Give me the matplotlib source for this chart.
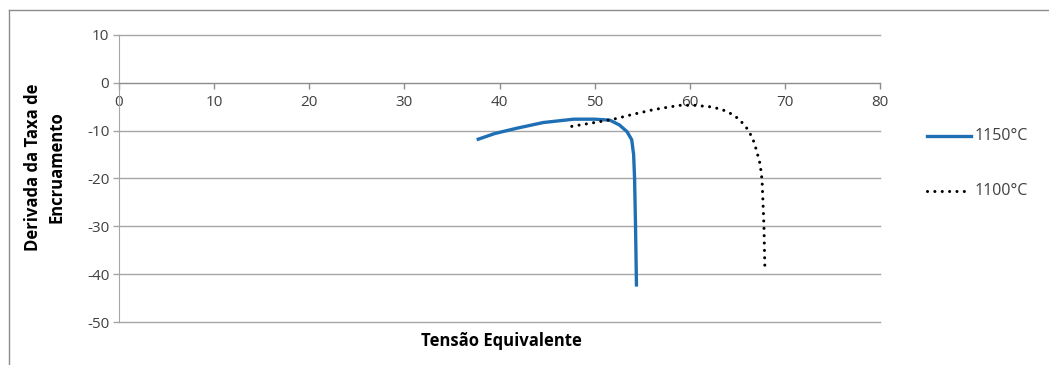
import matplotlib
matplotlib.use("Agg")
import matplotlib.pyplot as plt
from matplotlib.lines import Line2D

plt.rcParams['font.family'] = ['Open Sans', 'DejaVu Sans']
plt.rcParams['axes.unicode_minus'] = False

# Strain-hardening rate derivative vs equivalent stress
stress_1150 = [37.6, 39.5, 41.8, 44.6, 47.8, 50.0, 51.6, 52.6, 53.4, 53.9, 54.1, 54.2, 54.3, 54.4]
deriv_1150 = [-11.9, -10.6, -9.5, -8.3, -7.6, -7.6, -7.8, -8.8, -10.2, -11.9, -15.0, -20.0, -30.0, -42.6]

stress_1100 = [47.6, 50.0, 52.0, 54.0, 56.2, 58.0, 59.0, 60.5, 62.1, 63.3, 64.2, 65.2, 66.0, 66.6,
               67.0, 67.4, 67.6, 67.7, 67.8, 67.9]
deriv_1100 = [-9.1, -8.3, -7.6, -6.6, -5.6, -5.0, -4.7, -4.7, -5.0, -5.5, -6.3, -7.6, -9.5, -11.5,
              -14.0, -17.0, -20.3, -25.0, -30.0, -39.1]

labels = ['1150°C', '1100°C']
x_ticks = list(range(0, 81, 10))
y_ticks = list(range(-50, 11, 10))

W, H = 1049, 365
fig = plt.figure(figsize=(W / 100, H / 100), dpi=100)
ax = fig.add_axes([119 / W, 1 - 322 / H, (880 - 119) / W, (322 - 35) / H])

grid_c = '#a6a6a6'
blue = '#1f6fb4'
dots = (0, (0.01, 2.4))

ax.set_xlim(0, 80)
ax.set_ylim(-50, 10)
ax.set_yticks(y_ticks)
ax.set_xticks(x_ticks)
ax.yaxis.grid(True, color=grid_c, linewidth=1.0)
for gl in ax.yaxis.get_gridlines():
    gl.set_clip_on(False)
ax.set_axisbelow(True)

for s in ['top', 'right']:
    ax.spines[s].set_visible(False)
ax.spines['bottom'].set_position(('data', 0))
ax.spines['bottom'].set_color('#8c8c8c')
ax.spines['left'].set_color(grid_c)
ax.tick_params(axis='x', colors='#8c8c8c', length=4.5, width=1.0, labelcolor='#404040',
               labelsize=11, pad=4)
ax.tick_params(axis='y', colors=grid_c, length=4, width=1.0, labelcolor='#404040',
               labelsize=11, pad=3)

ax.plot(stress_1150, deriv_1150, color=blue, linewidth=2.4, solid_capstyle='butt',
        label=labels[0])
ax.plot(stress_1100, deriv_1100, color='black', linewidth=2.2, linestyle=dots,
        dash_capstyle='round', label=labels[1])

fig.text(501 / W, 1 - 341 / H, 'Tensão Equivalente', ha='center', va='center',
         fontsize=12, fontweight='bold', color='black')

fig.text(45 / W, 1 - 167 / H, 'Derivada da Taxa de\nEncruamento', rotation=90,
         ha='center', va='center', fontsize=12, fontweight='bold', multialignment='center',
         linespacing=1.4)

# legend drawn at right of plot area
leg_items = [(136, blue, '-', 2.4, 971), (191, 'black', dots, 2.2, 966)]
for (yp, c, ls, lw, x_end), lab in zip(leg_items, labels):
    yy = 1 - yp / H
    fig.add_artist(Line2D([927 / W, x_end / W], [yy, yy], color=c, linestyle=ls, linewidth=lw,
                          transform=fig.transFigure, dash_capstyle='round'))
    fig.text(975 / W, yy, lab, ha='left', va='center', fontsize=11.5, color='#404040')

# outer chart frame (left and top edges)
fig.add_artist(Line2D([8.5 / W, 8.5 / W], [0, 1 - 10 / H], color='#8c8c8c', linewidth=1.0,
                      transform=fig.transFigure))
fig.add_artist(Line2D([8.5 / W, 1], [1 - 10 / H, 1 - 10 / H], color='#8c8c8c', linewidth=1.0,
                      transform=fig.transFigure))

fig.savefig('out.png', dpi=100)
